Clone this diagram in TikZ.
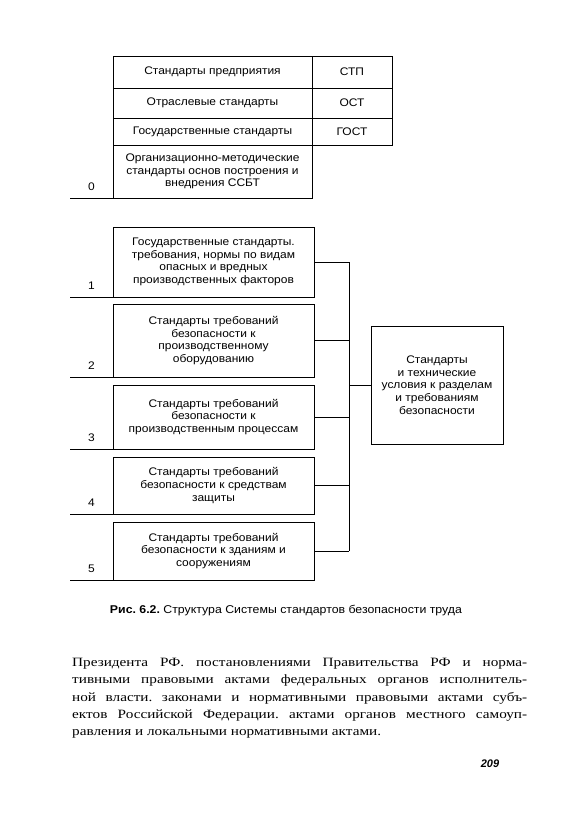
\documentclass[tikz,border=0pt]{standalone}
\usepackage{fontspec}
\setmainfont{Liberation Serif}
\setsansfont{Liberation Sans}
\newfontfamily\bodyfont[FakeStretch=1.2]{Liberation Serif}
\newfontfamily\boxfont[FakeStretch=1.09]{Liberation Sans}
\usetikzlibrary{positioning,calc}

\tikzset{
  cell/.style={draw, line width=1pt, outer sep=0pt, align=center, inner sep=2pt,
    font=\boxfont\fontsize{11}{12.7}\selectfont},
  num/.style={font=\boxfont\fontsize{11}{12}\selectfont, above=4pt},
  wire/.style={line width=1pt}
}

\begin{document}
\frenchspacing
\begin{tikzpicture}[x=1pt,y=-1pt]
\useasboundingbox (0,0) rectangle (583,827);

% top table
\node[cell, anchor=north west, minimum width=199, minimum height=32] (stp) at (113,56) {Стандарты предприятия};
\node[cell, right=0pt of stp, minimum width=80, minimum height=32] (stpc) {СТП};
\node[cell, below=0pt of stp, minimum width=199, minimum height=30] (ost) {Отраслевые стандарты};
\node[cell, right=0pt of ost, minimum width=80, minimum height=30] (ostc) {ОСТ};
\node[cell, below=0pt of ost, minimum width=199, minimum height=27] (gost) {Государственные стандарты};
\node[cell, right=0pt of gost, minimum width=80, minimum height=27] (gostc) {ГОСТ};
\node[cell, below=0pt of gost, minimum width=199, minimum height=53] (b0)
  {Организационно-методические\\стандарты основ построения и\\внедрения ССБТ};

% groups 1-5
\node[cell, anchor=north west, minimum width=201, minimum height=70] (b1) at (113,227)
  {Государственные стандарты.\\требования, нормы по видам\\опасных и вредных\\производственных факторов};
\node[cell, below=7pt of b1, minimum width=201, minimum height=73] (b2)
  {Стандарты требований\\безопасности к\\производственному\\оборудованию};
\node[cell, below=8pt of b2, minimum width=201, minimum height=64] (b3)
  {Стандарты требований\\безопасности к\\производственным процессам};
\node[cell, below=8pt of b3, minimum width=201, minimum height=57] (b4)
  {Стандарты требований\\безопасности к средствам\\защиты};
\node[cell, below=8pt of b4, minimum width=201, minimum height=58] (b5)
  {Стандарты требований\\безопасности к зданиям и\\сооружениям};

\node[cell, anchor=north west, minimum width=132, minimum height=118] (goal) at (371,326)
  {Стандарты\\и технические\\условия к разделам\\и требованиям\\безопасности};

% number lines
\foreach \b/\n in {b0/0,b1/1,b2/2,b3/3,b4/4,b5/5}{
  \coordinate (l\n) at ($(\b.south west)+(-43,0)$);
  \draw[wire] (l\n) -- node[num] (n\n) {\n} (\b.south west);
}

% bus
\coordinate (bus) at (349,385);
\foreach \b in {b1,b2,b3,b4,b5}
  \draw[wire] (\b.east) -- (\b.east -| bus);
\draw[wire] (b1.east -| bus) -- (b5.east -| bus);
\draw[wire] (bus) -- (goal.west);

\node[font=\boxfont\fontsize{11.3}{13}\selectfont] (cap) at (286,611)
  {\textbf{Рис. 6.2.} Структура Системы стандартов безопасности труда};

\node[anchor=north west, inner sep=0pt, align=left, font=\bodyfont\fontsize{12.7}{17.3}\selectfont] (body) at (72,658)
  {\makebox[455pt][s]{Президента РФ. постановлениями Правительства РФ и норма-}\\
   \makebox[455pt][s]{тивными правовыми актами федеральных органов исполнитель-}\\
   \makebox[455pt][s]{ной власти. законами и нормативными правовыми актами субъ-}\\
   \makebox[455pt][s]{ектов Российской Федерации. актами органов местного самоуп-}\\
   равления и локальными нормативными актами.};

\node[font=\sffamily\bfseries\itshape\fontsize{11}{13}\selectfont] (pg) at (490,764) {209};
\end{tikzpicture}
\end{document}
